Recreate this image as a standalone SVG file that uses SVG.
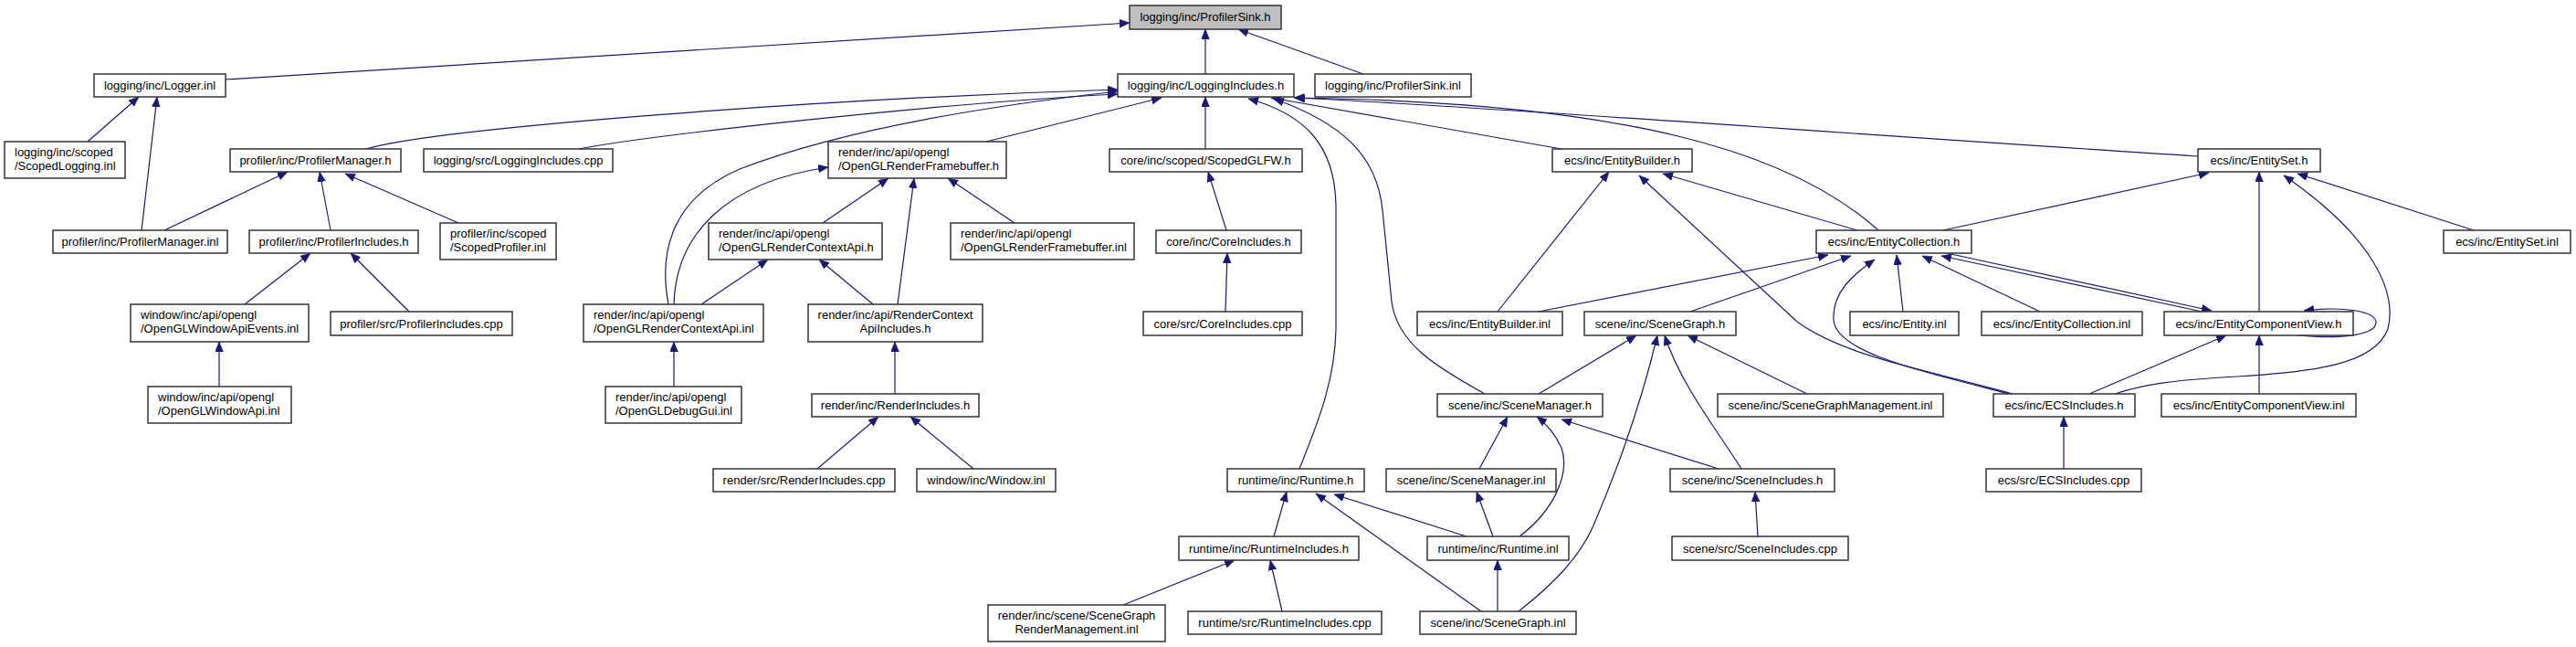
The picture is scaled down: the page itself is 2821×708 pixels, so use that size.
<svg xmlns="http://www.w3.org/2000/svg" width="2821" height="708" viewBox="0 0 2821 708">
<style>
.box{fill:#ffffff;stroke:#333333;stroke-width:1.5}
.root{fill:#bfbfbf;stroke:#333333;stroke-width:1.5}
text{font-family:"Liberation Sans",Arial,sans-serif;font-size:13px;fill:#000000}
.c{text-anchor:middle}
.e{fill:none;stroke:#191970;stroke-width:1.2;marker-end:url(#arr)}
</style>
<defs>
<marker id="arr" markerUnits="userSpaceOnUse" markerWidth="12" markerHeight="10" refX="11" refY="4.5" orient="auto">
<path d="M0,0 L11,4.5 L0,9 z" fill="#191970" stroke="#191970" stroke-width="0.5"/>
</marker>
</defs>
<rect width="2821" height="708" fill="#ffffff"/>
<g id="connectors">
<path class="e" d="M247,87 L1237,25"/>
<path class="e" d="M1320,81 L1320,32"/>
<path class="e" d="M1493,81 L1356,32"/>
<path class="e" d="M96,155 L152,106"/>
<path class="e" d="M155,252 L172,106"/>
<path class="e" d="M401,163 C480,140 900,108 1224,98"/>
<path class="e" d="M634,163 C700,150 1000,115 1224,103"/>
<path class="e" d="M1080,155 L1272,107"/>
<path class="e" d="M1320,163 L1320,106"/>
<path class="e" d="M732,333 C720,270 740,215 810,185 C880,158 1000,125 1224,100"/>
<path class="e" d="M1710,163 L1392,107"/>
<path class="e" d="M2057,252 C1960,165 1780,112 1417,107"/>
<path class="e" d="M2407,171 C2000,145 1600,115 1418,107"/>
<path class="e" d="M1626,431 C1570,400 1530,375 1524,330 L1514,230 C1508,170 1470,135 1395,108"/>
<path class="e" d="M1423,513 C1440,470 1462,420 1463,360 L1463,225 C1462,160 1430,125 1367,108"/>
<path class="e" d="M180,252 L315,188"/>
<path class="e" d="M362,252 L350,188"/>
<path class="e" d="M502,244 L378,190"/>
<path class="e" d="M268,333 L340,277"/>
<path class="e" d="M448,341 L384,277"/>
<path class="e" d="M240,423 L240,374"/>
<path class="e" d="M901,244 L973,195"/>
<path class="e" d="M1111,244 L1038,195"/>
<path class="e" d="M983,333 L1001,195"/>
<path class="e" d="M738,333 C740,260 790,200 907,183"/>
<path class="e" d="M768,333 L841,284"/>
<path class="e" d="M956,333 L897,284"/>
<path class="e" d="M738,423 L738,374"/>
<path class="e" d="M980,431 L980,374"/>
<path class="e" d="M895,513 L962,456"/>
<path class="e" d="M1066,513 L997,456"/>
<path class="e" d="M1343,252 L1323,188"/>
<path class="e" d="M1342,341 L1344,277"/>
<path class="e" d="M1640,341 L1762,188"/>
<path class="e" d="M2204,431 C2110,405 2020,390 1968,352 L1795,192"/>
<path class="e" d="M2034,252 L1821,190"/>
<path class="e" d="M2128,252 L2419,189"/>
<path class="e" d="M2474,341 L2474,188"/>
<path class="e" d="M2709,252 L2516,190"/>
<path class="e" d="M2316,431 C2350,420 2380,416 2450,412 C2530,407 2600,400 2615,360 C2625,320 2600,260 2501,192"/>
<path class="e" d="M1685,341 L2002,279"/>
<path class="e" d="M1851,341 L2027,280"/>
<path class="e" d="M2200,431 C2100,405 2010,385 2008,350 C2006,320 2030,300 2053,284"/>
<path class="e" d="M2084,341 L2077,279"/>
<path class="e" d="M2234,341 L2105,280"/>
<path class="e" d="M2416,342 L2126,280"/>
<path class="e" d="M2132,277 L2422,340"/>
<path class="e" d="M2516,367 C2570,372 2602,365 2602,353 C2602,340 2565,335 2523,340"/>
<path class="e" d="M2288,431 L2438,367"/>
<path class="e" d="M2474,431 L2474,367"/>
<path class="e" d="M2260,513 L2260,456"/>
<path class="e" d="M1685,431 L1792,367"/>
<path class="e" d="M1979,431 L1848,367"/>
<path class="e" d="M1907,513 C1880,470 1840,420 1823,367"/>
<path class="e" d="M1663,669 C1700,640 1730,610 1745,575 C1775,505 1800,430 1815,367"/>
<path class="e" d="M1620,513 L1651,456"/>
<path class="e" d="M1664,587 C1700,560 1720,520 1710,490 C1703,475 1695,465 1683,456"/>
<path class="e" d="M1882,513 L1710,459"/>
<path class="e" d="M1925,587 L1922,538"/>
<path class="e" d="M1395,587 L1409,538"/>
<path class="e" d="M1606,587 L1461,541"/>
<path class="e" d="M1622,669 L1441,540"/>
<path class="e" d="M1635,587 L1617,538"/>
<path class="e" d="M1640,669 L1640,613"/>
<path class="e" d="M1230,662 L1352,613"/>
<path class="e" d="M1404,669 L1391,613"/>
</g>
<g id="n_ProfilerSink_h"><rect class="root" x="1237" y="6" width="166" height="26"/><text class="c" x="1320" y="23">logging/inc/ProfilerSink.h</text></g>
<g id="n_Logger_inl"><rect class="box" x="103" y="81" width="144" height="25"/><text class="c" x="175" y="98">logging/inc/Logger.inl</text></g>
<g id="n_LoggingIncludes_h"><rect class="box" x="1224" y="81" width="193" height="25"/><text class="c" x="1320.5" y="98">logging/inc/LoggingIncludes.h</text></g>
<g id="n_ProfilerSink_inl"><rect class="box" x="1440" y="81" width="171" height="25"/><text class="c" x="1525.5" y="98">logging/inc/ProfilerSink.inl</text></g>
<g id="n_ScopedLogging_inl"><rect class="box" x="5" y="155" width="132" height="40"/><text x="16" y="171">logging/inc/scoped</text><text x="16" y="185.5">/ScopedLogging.inl</text></g>
<g id="n_ProfilerManager_h"><rect class="box" x="252" y="163" width="187" height="25"/><text class="c" x="345.5" y="180">profiler/inc/ProfilerManager.h</text></g>
<g id="n_LoggingIncludes_cpp"><rect class="box" x="464" y="163" width="207" height="25"/><text class="c" x="567.5" y="180">logging/src/LoggingIncludes.cpp</text></g>
<g id="n_OpenGLRenderFramebuffer_h"><rect class="box" x="907" y="155" width="195" height="40"/><text x="918" y="171">render/inc/api/opengl</text><text x="918" y="185.5">/OpenGLRenderFramebuffer.h</text></g>
<g id="n_ScopedGLFW_h"><rect class="box" x="1215" y="163" width="211" height="25"/><text class="c" x="1320.5" y="180">core/inc/scoped/ScopedGLFW.h</text></g>
<g id="n_EntityBuilder_h"><rect class="box" x="1700" y="163" width="153" height="25"/><text class="c" x="1776.5" y="180">ecs/inc/EntityBuilder.h</text></g>
<g id="n_EntitySet_h"><rect class="box" x="2407" y="163" width="134" height="25"/><text class="c" x="2474" y="180">ecs/inc/EntitySet.h</text></g>
<g id="n_ProfilerManager_inl"><rect class="box" x="58" y="252" width="191" height="25"/><text class="c" x="153.5" y="269">profiler/inc/ProfilerManager.inl</text></g>
<g id="n_ProfilerIncludes_h"><rect class="box" x="273" y="252" width="185" height="25"/><text class="c" x="365.5" y="269">profiler/inc/ProfilerIncludes.h</text></g>
<g id="n_ScopedProfiler_inl"><rect class="box" x="482" y="244" width="127" height="40"/><text x="493" y="260">profiler/inc/scoped</text><text x="493" y="274.5">/ScopedProfiler.inl</text></g>
<g id="n_OpenGLRenderContextApi_h"><rect class="box" x="776" y="244" width="190" height="40"/><text x="787" y="260">render/inc/api/opengl</text><text x="787" y="274.5">/OpenGLRenderContextApi.h</text></g>
<g id="n_OpenGLRenderFramebuffer_inl"><rect class="box" x="1041" y="244" width="201" height="40"/><text x="1052" y="260">render/inc/api/opengl</text><text x="1052" y="274.5">/OpenGLRenderFramebuffer.inl</text></g>
<g id="n_CoreIncludes_h"><rect class="box" x="1266" y="252" width="159" height="25"/><text class="c" x="1345.5" y="269">core/inc/CoreIncludes.h</text></g>
<g id="n_EntityCollection_h"><rect class="box" x="1989" y="252" width="170" height="25"/><text class="c" x="2074" y="269">ecs/inc/EntityCollection.h</text></g>
<g id="n_EntitySet_inl"><rect class="box" x="2676" y="252" width="139" height="25"/><text class="c" x="2745.5" y="269">ecs/inc/EntitySet.inl</text></g>
<g id="n_OpenGLWindowApiEvents_inl"><rect class="box" x="143" y="333" width="195" height="41"/><text x="154" y="349">window/inc/api/opengl</text><text x="154" y="364">/OpenGLWindowApiEvents.inl</text></g>
<g id="n_ProfilerIncludes_cpp"><rect class="box" x="362" y="341" width="199" height="26"/><text class="c" x="461.5" y="358.5">profiler/src/ProfilerIncludes.cpp</text></g>
<g id="n_OpenGLRenderContextApi_inl"><rect class="box" x="639" y="333" width="197" height="41"/><text x="650" y="349">render/inc/api/opengl</text><text x="650" y="364">/OpenGLRenderContextApi.inl</text></g>
<g id="n_RenderContextApiIncludes_h"><rect class="box" x="885" y="333" width="191" height="41"/><text class="c" x="980.5" y="349">render/inc/api/RenderContext</text><text class="c" x="980.5" y="364">ApiIncludes.h</text></g>
<g id="n_CoreIncludes_cpp"><rect class="box" x="1252" y="341" width="174" height="26"/><text class="c" x="1339" y="358.5">core/src/CoreIncludes.cpp</text></g>
<g id="n_EntityBuilder_inl"><rect class="box" x="1552" y="341" width="159" height="26"/><text class="c" x="1631.5" y="358.5">ecs/inc/EntityBuilder.inl</text></g>
<g id="n_SceneGraph_h"><rect class="box" x="1735" y="341" width="166" height="26"/><text class="c" x="1818" y="358.5">scene/inc/SceneGraph.h</text></g>
<g id="n_Entity_inl"><rect class="box" x="2026" y="341" width="119" height="26"/><text class="c" x="2085.5" y="358.5">ecs/inc/Entity.inl</text></g>
<g id="n_EntityCollection_inl"><rect class="box" x="2170" y="341" width="176" height="26"/><text class="c" x="2258" y="358.5">ecs/inc/EntityCollection.inl</text></g>
<g id="n_EntityComponentView_h"><rect class="box" x="2370" y="341" width="207" height="26"/><text class="c" x="2473.5" y="358.5">ecs/inc/EntityComponentView.h</text></g>
<g id="n_OpenGLWindowApi_inl"><rect class="box" x="162" y="423" width="157" height="40"/><text x="173" y="439">window/inc/api/opengl</text><text x="173" y="453.5">/OpenGLWindowApi.inl</text></g>
<g id="n_OpenGLDebugGui_inl"><rect class="box" x="663" y="423" width="149" height="40"/><text x="674" y="439">render/inc/api/opengl</text><text x="674" y="453.5">/OpenGLDebugGui.inl</text></g>
<g id="n_RenderIncludes_h"><rect class="box" x="889" y="431" width="183" height="25"/><text class="c" x="980.5" y="448">render/inc/RenderIncludes.h</text></g>
<g id="n_SceneManager_h"><rect class="box" x="1574" y="431" width="181" height="25"/><text class="c" x="1664.5" y="448">scene/inc/SceneManager.h</text></g>
<g id="n_SceneGraphManagement_inl"><rect class="box" x="1881" y="431" width="247" height="25"/><text class="c" x="2004.5" y="448">scene/inc/SceneGraphManagement.inl</text></g>
<g id="n_ECSIncludes_h"><rect class="box" x="2183" y="431" width="155" height="25"/><text class="c" x="2260.5" y="448">ecs/inc/ECSIncludes.h</text></g>
<g id="n_EntityComponentView_inl"><rect class="box" x="2367" y="431" width="213" height="25"/><text class="c" x="2473.5" y="448">ecs/inc/EntityComponentView.inl</text></g>
<g id="n_RenderIncludes_cpp"><rect class="box" x="781" y="513" width="199" height="25"/><text class="c" x="880.5" y="530">render/src/RenderIncludes.cpp</text></g>
<g id="n_Window_inl"><rect class="box" x="1004" y="513" width="152" height="25"/><text class="c" x="1080" y="530">window/inc/Window.inl</text></g>
<g id="n_Runtime_h"><rect class="box" x="1344" y="513" width="150" height="25"/><text class="c" x="1419" y="530">runtime/inc/Runtime.h</text></g>
<g id="n_SceneManager_inl"><rect class="box" x="1518" y="513" width="186" height="25"/><text class="c" x="1611" y="530">scene/inc/SceneManager.inl</text></g>
<g id="n_SceneIncludes_h"><rect class="box" x="1829" y="513" width="180" height="25"/><text class="c" x="1919" y="530">scene/inc/SceneIncludes.h</text></g>
<g id="n_ECSIncludes_cpp"><rect class="box" x="2175" y="513" width="170" height="25"/><text class="c" x="2260" y="530">ecs/src/ECSIncludes.cpp</text></g>
<g id="n_RuntimeIncludes_h"><rect class="box" x="1291" y="587" width="197" height="26"/><text class="c" x="1389.5" y="604.5">runtime/inc/RuntimeIncludes.h</text></g>
<g id="n_Runtime_inl"><rect class="box" x="1563" y="587" width="155" height="26"/><text class="c" x="1640.5" y="604.5">runtime/inc/Runtime.inl</text></g>
<g id="n_SceneIncludes_cpp"><rect class="box" x="1831" y="587" width="193" height="26"/><text class="c" x="1927.5" y="604.5">scene/src/SceneIncludes.cpp</text></g>
<g id="n_SceneGraphRenderManagement_inl"><rect class="box" x="1082" y="662" width="194" height="40"/><text class="c" x="1179" y="678">render/inc/scene/SceneGraph</text><text class="c" x="1179" y="692.5">RenderManagement.inl</text></g>
<g id="n_RuntimeIncludes_cpp"><rect class="box" x="1301" y="669" width="212" height="25"/><text class="c" x="1407" y="686">runtime/src/RuntimeIncludes.cpp</text></g>
<g id="n_SceneGraph_inl"><rect class="box" x="1555" y="669" width="171" height="25"/><text class="c" x="1640.5" y="686">scene/inc/SceneGraph.inl</text></g>
</svg>
